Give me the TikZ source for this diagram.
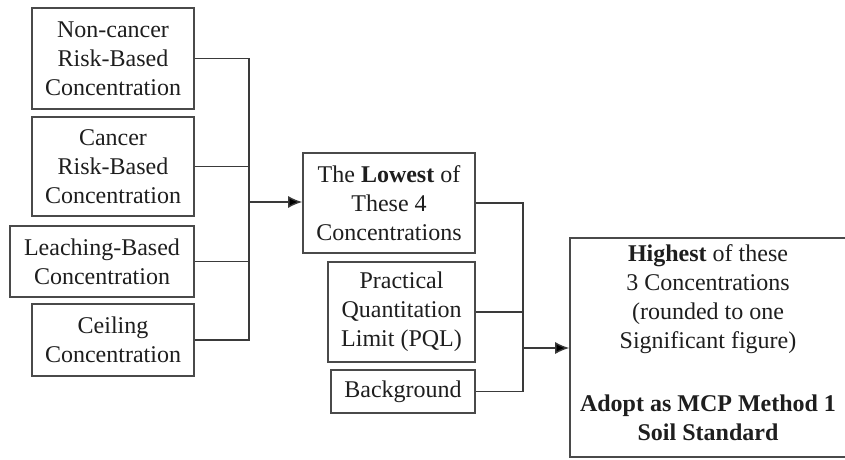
\documentclass[tikz,border=0pt]{standalone}
\usepackage{fontspec}
\setmainfont{Liberation Serif}
\usetikzlibrary{arrows.meta}
\definecolor{boxline}{HTML}{4A4A4A}
\definecolor{wire}{HTML}{3A3A3A}
\definecolor{ink}{HTML}{1E1E1E}
\begin{document}
\begin{tikzpicture}[x=1pt,y=-1pt,
  box/.style={draw=boxline,line width=1.6pt,fill=white,align=center,inner sep=0pt,
    text=ink,font=\fontsize{24}{29}\selectfont},
  wireline/.style={draw=wire,line width=1.4pt},
  arr/.style={wireline,-{Latex[length=14pt,width=12pt,fill=black]}}]
\useasboundingbox (0,0) rectangle (845,459);
\clip (0,0) rectangle (845,459);
\fill[white] (0,0) rectangle (845,459);
% left column
\node[box,minimum width=162pt,minimum height=101pt] (b1) at (113,58.5) {Non-cancer\\Risk-Based\\Concentration};
\node[box,minimum width=162pt,minimum height=99pt] (b2) at (113,166.5) {Cancer\\Risk-Based\\Concentration};
\node[box,minimum width=184pt,minimum height=71pt] (b3) at (102,261.5) {Leaching-Based\\Concentration};
\node[box,minimum width=162pt,minimum height=72pt] (b4) at (113,340) {Ceiling\\Concentration};
% middle column
\node[box,minimum width=172pt,minimum height=100pt] (low) at (389,203) {The \textbf{Lowest} of\\These 4\\Concentrations};
\node[box,minimum width=147pt,minimum height=100pt] (pql) at (401.5,312) {Practical\\Quantitation\\Limit (PQL)};
\node[box,minimum width=144pt,minimum height=43pt] (bg) at (403,391.5) {Background};
% final (right side runs past the picture's edge)
\node[box,minimum width=300pt,minimum height=219pt] (fin) at (720,347.5) {};
\node[align=center,inner sep=0pt,text=ink,font=\fontsize{24}{29}\selectfont] (fintext) at (708,343) {\textbf{Highest} of these\\3 Concentrations\\(rounded to one\\Significant figure)\\[34pt]\textbf{Adopt as MCP Method 1}\\\textbf{Soil Standard}};
% junctions
\coordinate (j1) at (249,202);
\coordinate (j2) at (523,348);
\draw[wireline] (b1.east) -| (j1);
\draw[wireline] (b2.east) -| (j1);
\draw[wireline] (b3.east) -| (j1);
\draw[wireline] (b4.east) -| (j1);
\draw[arr] (j1) -- (low.west |- j1);
\draw[wireline] (low.east) -| (j2);
\draw[wireline] (pql.east) -| (j2);
\draw[wireline] (bg.east) -| (j2);
\draw[arr] (j2) -- (fin.west |- j2);
\end{tikzpicture}
\end{document}
